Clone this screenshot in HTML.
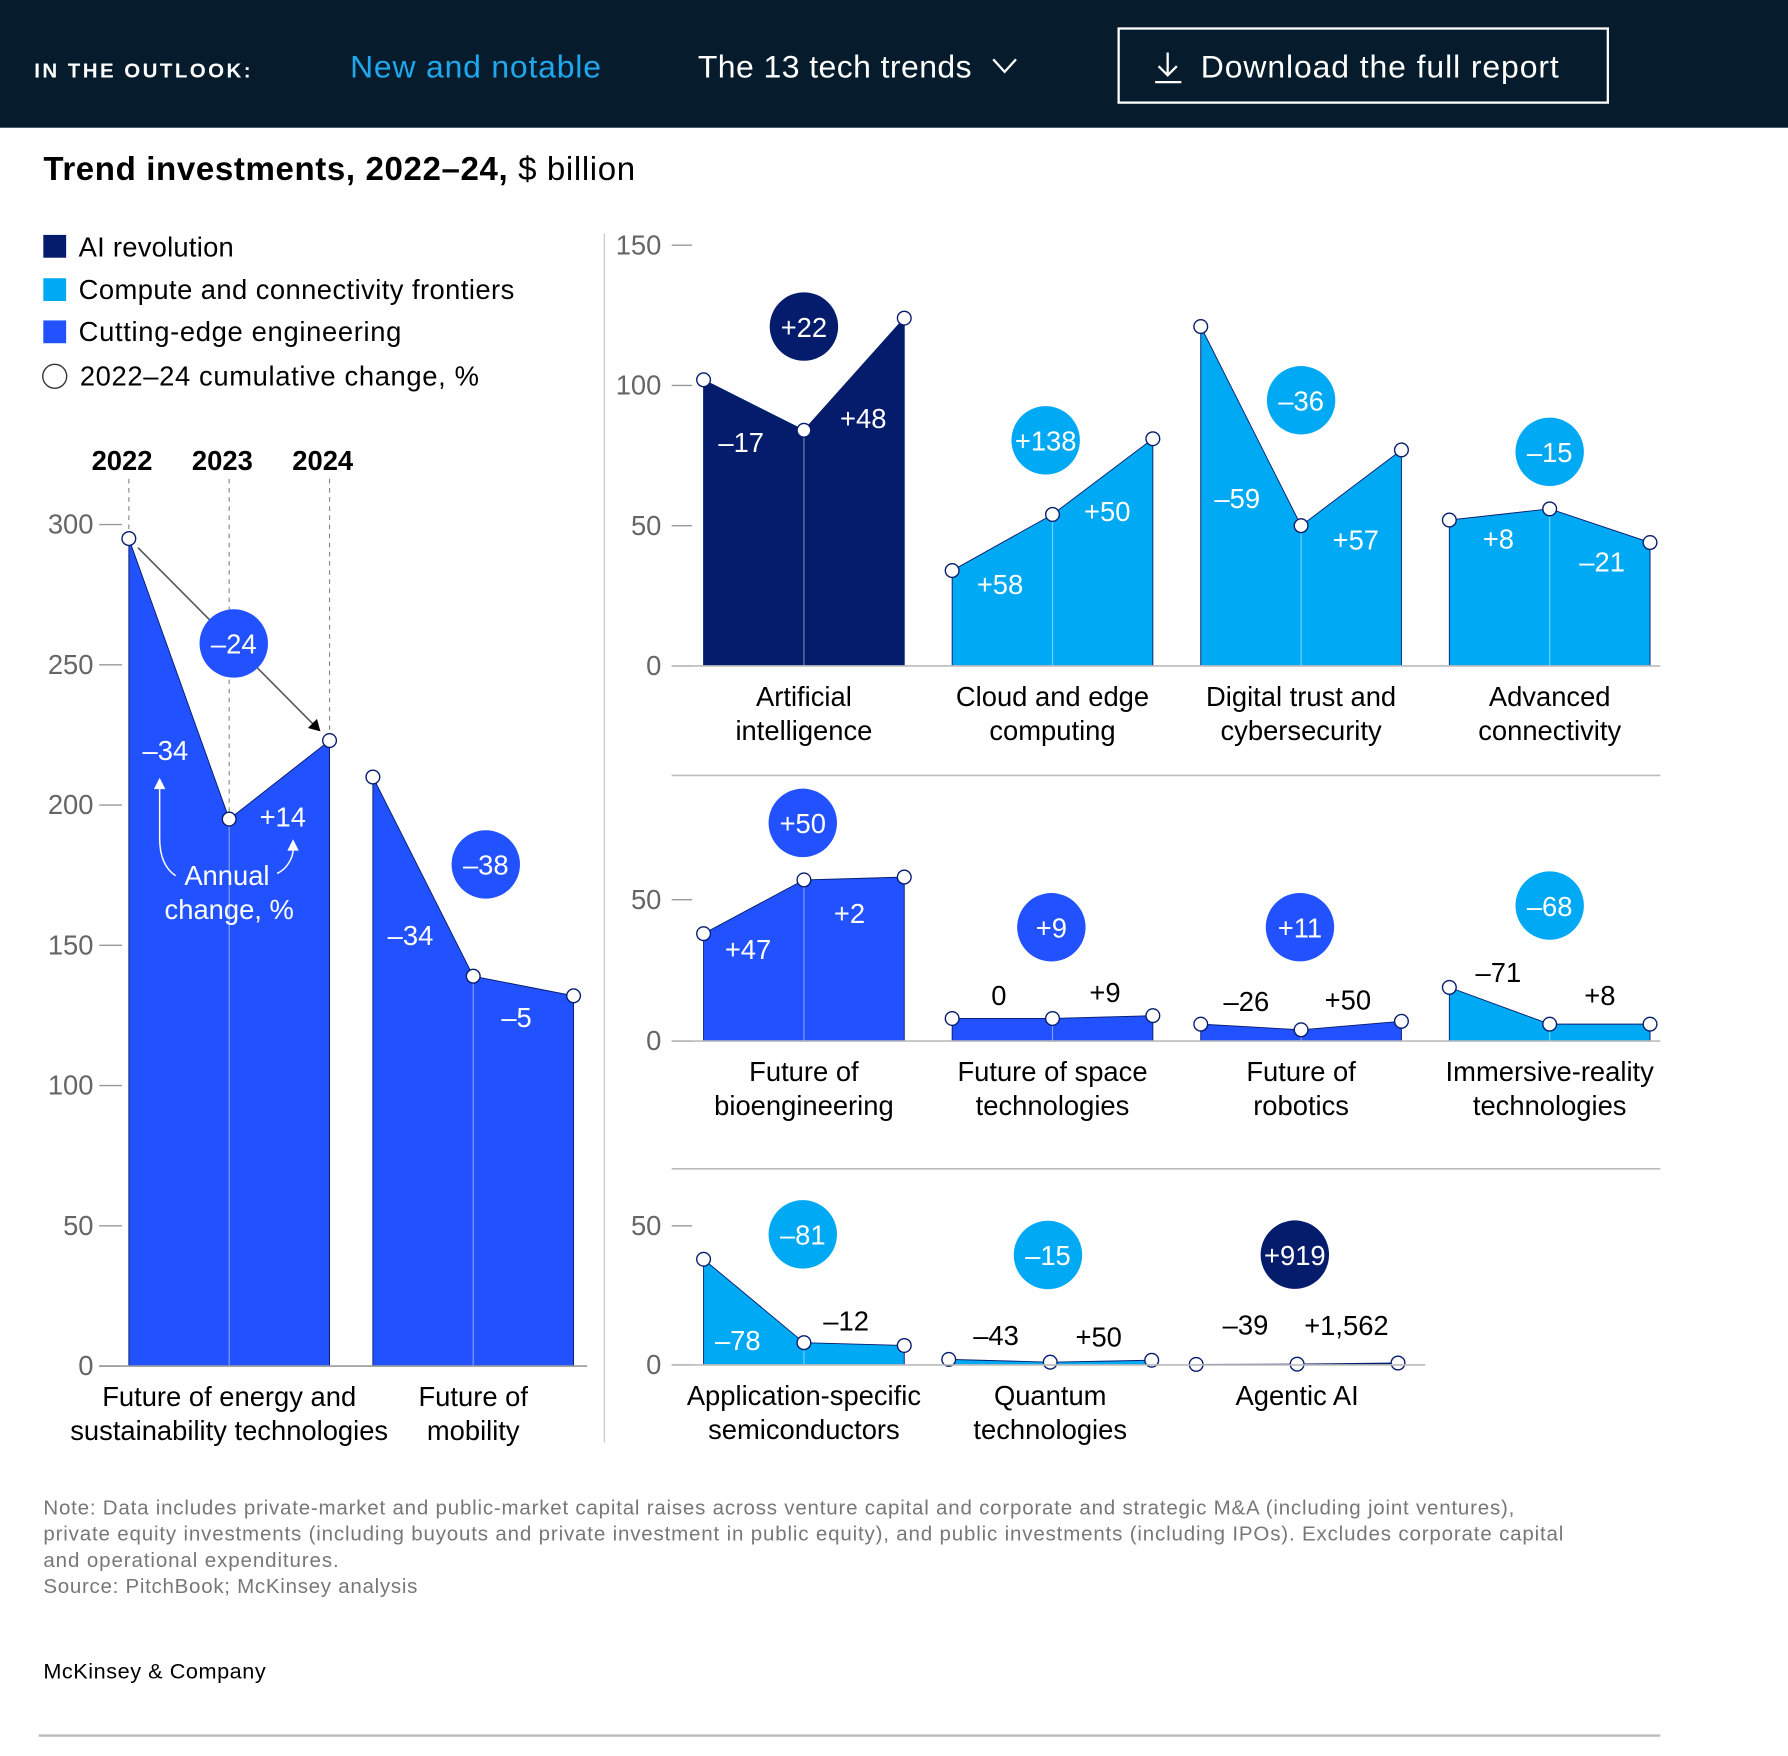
<!DOCTYPE html>
<html><head><meta charset="utf-8"><style>
html,body{margin:0;padding:0;background:#fff;width:1788px;height:1750px;overflow:hidden}
#wrap{position:absolute;left:0;top:0;width:1568px;height:1535px;transform:scale(1.14031);transform-origin:0 0;font-family:"Liberation Sans",sans-serif}
svg text{font-family:"Liberation Sans",sans-serif}
</style></head><body>
<div id="wrap">
<svg id="chart" width="1568" height="1535" viewBox="0 0 1568 1535" xmlns="http://www.w3.org/2000/svg">
<rect x="0" y="0" width="1568" height="112" fill="#061c2c"/>
<text x="30" y="68" fill="#fff" font-size="18" font-weight="bold" letter-spacing="1.2" textLength="191">IN THE OUTLOOK:</text>
<text x="307" y="68" fill="#1fa8ee" font-size="28" textLength="220">New and notable</text>
<text x="612" y="68" fill="#fff" font-size="28" textLength="240">The 13 tech trends</text>
<path d="M871 52 L881 63 L891 52" fill="none" stroke="#fff" stroke-width="2"/>
<rect x="981" y="25" width="429" height="65" fill="none" stroke="#fff" stroke-width="2"/>
<path d="M1024 46 V66 M1016 58 L1024 66 L1032 58 M1013 72 H1036" fill="none" stroke="#fff" stroke-width="2"/>
<text x="1053" y="68" fill="#fff" font-size="28" textLength="314">Download the full report</text>
<text x="38" y="158" font-size="29" fill="#000" textLength="519"><tspan font-weight="bold">Trend investments, 2022–24,</tspan> $ billion</text>
<g>
<rect x="38" y="206" width="20" height="20" fill="#051c6c"/>
<text x="69" y="225" font-size="24" textLength="136">AI revolution</text>
<rect x="38" y="244" width="20" height="20" fill="#00a9f4"/>
<text x="69" y="262" font-size="24" textLength="382">Compute and connectivity frontiers</text>
<rect x="38" y="281" width="20" height="20" fill="#2251ff"/>
<text x="69" y="299" font-size="24" textLength="283">Cutting-edge engineering</text>
<circle cx="48" cy="330" r="10.5" fill="#fff" stroke="#333" stroke-width="1.2"/>
<text x="70" y="338" font-size="24" textLength="350">2022–24 cumulative change, %</text>
</g>
<line x1="530" y1="205" x2="530" y2="1265" stroke="#ccc" stroke-width="1.2"/>
<g id="marks"></g>
<g fill="#777" font-size="18">
<text x="38" y="1328" textLength="1290">Note: Data includes private-market and public-market capital raises across venture capital and corporate and strategic M&amp;A (including joint ventures),</text>
<text x="38" y="1351" textLength="1333">private equity investments (including buyouts and private investment in public equity), and public investments (including IPOs). Excludes corporate capital</text>
<text x="38" y="1374" textLength="259">and operational expenditures.</text>
<text x="38" y="1397" textLength="328">Source: PitchBook; McKinsey analysis</text>
</g>
<text x="38" y="1472" font-size="19" fill="#000" textLength="195">McKinsey &amp; Company</text>
<line x1="34" y1="1522" x2="1456" y2="1522" stroke="#bbb" stroke-width="2"/>
</svg>
</div>
<script>
// ---- data ----
const leftTicks=[0,50,100,150,200,250,300];
const panelTicks1=[0,50,100,150];
const panelTicks2=[0,50];
const panelTicks3=[0,50];
const years=["2022","2023","2024"];
const energyVals=[295,195,223];
const mobilityVals=[210,139,132];
const aiVals=[102,84,124];
const cloudVals=[34,54,81];
const trustVals=[121,50,77];
const connVals=[52,56,44];
const bioVals=[38,57,58];
const spaceVals=[8,8,9];
const roboticsVals=[6,4,7];
const immersiveVals=[19,6,6];
const semisVals=[38,8,7];
const quantumVals=[2,1,1.7];
const agenticVals=[0.2,0.3,0.7];
const energyChanges=["–34","+14"], mobilityChanges=["–34","–5"];
const aiChanges=["–17","+48"], cloudChanges=["+58","+50"], trustChanges=["–59","+57"], connChanges=["+8","–21"];
const bioChanges=["+47","+2"], spaceChanges=["0","+9"], roboticsChanges=["–26","+50"], immersiveChanges=["–71","+8"];
const semisChanges=["–78","–12"], quantumChanges=["–43","+50"], agenticChanges=["–39","+1,562"];
const cumulative=["–24","–38","+22","+138","–36","–15","+50","+9","+11","–68","–81","–15","+919"];

const NS="http://www.w3.org/2000/svg";
const root=document.getElementById('marks');
const COL={ai:"#051c6c",cc:"#00a9f4",ce:"#2251ff"};
function mk(tag,attrs,parent){const e=document.createElementNS(NS,tag);for(const k in attrs)e.setAttribute(k,attrs[k]);(parent||root).appendChild(e);return e;}
function txt(x,y,s,size,fill,anchor,parent){const t=mk('text',{x:x,y:y,'font-size':size,fill:fill,'text-anchor':anchor||'middle'},parent);t.textContent=s;return t;}

// axis functions
const PX=2.46;
function yLeft(v){return 1198-v*PX;}
function yP1(v){return 584-v*PX;}
function yP2(v){return 913-v*2.48;}
function yP3(v){return 1197-v*2.44;}

function drawAxis(ticks,yf,labelX,tx1,tx2,name){
  ticks.forEach(t=>{
    const l=mk('line',{x1:tx1,x2:tx2,y1:yf(t),y2:yf(t),stroke:'#999','stroke-width':1.2});
    
    
    const tt=txt(labelX,yf(t)+8,String(t),24,'#666','end');
    
    
  });
}
drawAxis(leftTicks,yLeft,82,87,107,'left-y-axis');
drawAxis(panelTicks1,yP1,580,589,607,'panel1-y-axis');
drawAxis(panelTicks2,yP2,580,589,607,'panel2-y-axis');
drawAxis(panelTicks3,yP3,580,589,607,'panel3-y-axis');

// layout: label offsets (dx,dy) from segment midpoint, bubble (dx,lift) above middle point
function drawTrend(key,x0,w,vals,changes,cum,color,yf,names,lab,bub){
  const g=mk('g',{});
  
  
  const base=yf(0);
  const xs=[x0,x0+w/2,x0+w];
  const ys=vals.map(yf);
  const a=mk('path',{d:`M${xs[0]} ${base} L${xs[0]} ${ys[0]} L${xs[1]} ${ys[1]} L${xs[2]} ${ys[2]} L${xs[2]} ${base} Z`,fill:color,stroke:'#051c6c','stroke-width':0.8},g);
  
  
  const d=mk('line',{x1:xs[1],x2:xs[1],y1:ys[1],y2:base,stroke:'rgba(255,255,255,0.45)','stroke-width':1},g);
  
  
  for(let i=0;i<2;i++){
    const mx=(xs[i]+xs[i+1])/2, my=(ys[i]+ys[i+1])/2;
    const o=lab[i];
    const t=txt(mx+o[0],my+o[1]+8,changes[i],24,o[1]>0?'#fff':'#000','middle',g);
    
    
  }
  const cx=xs[1]+bub[0], cy=ys[1]-bub[1];
  const c=mk('circle',{cx:cx,cy:cy,r:30,fill:color},g);
  
  
  const ct=txt(cx,cy+9,cum,24,'#fff','middle',g);
  
  
  for(let i=0;i<3;i++){
    const p=mk('circle',{cx:xs[i],cy:ys[i],r:6,fill:'#fff',stroke:'#051c6c','stroke-width':1.2},g);
    
    
  }
  names.forEach((n,i)=>{
    const t=txt(x0+w/2,base+35+i*30,n,24,'#000','middle',g);
    
    
  });
}

const ex=[113,201,289];
years.forEach((y,i)=>{
  const l=mk('line',{x1:ex[i],x2:ex[i],y1:420,y2:yLeft(energyVals[i]),stroke:'#888','stroke-width':1,'stroke-dasharray':'4 4'});
  
  
  const t=mk('text',{x:ex[i]-6,y:412,'font-size':24,'font-weight':'bold','text-anchor':'middle',fill:'#000'});
  t.textContent=y;
  
  
});
const arrow=mk('path',{d:`M${ex[0]+8} ${yLeft(energyVals[0])+8} L${ex[2]-10} ${yLeft(energyVals[2])-10}`,stroke:'#555','stroke-width':1.4,fill:'none'});


const ah=mk('path',{d:`M${ex[2]-8} ${yLeft(energyVals[2])-8} l-11 -3 l8 -8 z`,fill:'#000'});



drawTrend('energy',113,176,energyVals,energyChanges,cumulative[0],COL.ce,yLeft,["Future of energy and","sustainability technologies"],[[-12,63],[3,33]],[4,154]);
drawTrend('mobility',327,176,mobilityVals,mobilityChanges,cumulative[1],COL.ce,yLeft,["Future of","mobility"],[[-11,52],[-6,28]],[11,98]);
const bl=mk('line',{x1:87,x2:515,y1:yLeft(0),y2:yLeft(0),stroke:'#999','stroke-width':1.4});



const ann=mk('g',{});


txt(199,776,'Annual',24,'#fff','middle',ann);
txt(201,806,'change, %',24,'#fff','middle',ann);
mk('path',{d:'M154 768 C145 762 140 752 140 735 L140 692',stroke:'#fff','stroke-width':1.3,fill:'none'},ann);
mk('path',{d:'M135 692 L140 682 L145 692 Z',fill:'#fff'},ann);
mk('path',{d:'M243 766 C252 762 257 752 257 745',stroke:'#fff','stroke-width':1.3,fill:'none'},ann);
mk('path',{d:'M252 746 L257 736 L262 746 Z',fill:'#fff'},ann);

drawTrend('artificial-intelligence',617,176,aiVals,aiChanges,cumulative[2],COL.ai,yP1,["Artificial","intelligence"],[[-11,33],[8,39]],[0,91]);
drawTrend('cloud-edge',835,176,cloudVals,cloudChanges,cumulative[3],COL.cc,yP1,["Cloud and edge","computing"],[[-2,37],[4,31]],[-6,65]);
drawTrend('digital-trust',1053,176,trustVals,trustChanges,cumulative[4],COL.cc,yP1,["Digital trust and","cybersecurity"],[[-12,64],[4,46]],[0,110]);
drawTrend('advanced-connectivity',1271,176,connVals,connChanges,cumulative[5],COL.cc,yP1,["Advanced","connectivity"],[[-1,22],[2,32]],[0,50]);
drawTrend('bioengineering',617,176,bioVals,bioChanges,cumulative[6],COL.ce,yP2,["Future of","bioengineering"],[[-5,38],[-4,31]],[-1,50]);
drawTrend('space',835,176,spaceVals,spaceChanges,cumulative[7],COL.ce,yP2,["Future of space","technologies"],[[-3,-20],[2,-21]],[-1,80]);
drawTrend('robotics',1053,176,roboticsVals,roboticsChanges,cumulative[8],COL.ce,yP2,["Future of","robotics"],[[-4,-22],[-3,-22]],[-1,90]);
drawTrend('immersive-reality',1271,176,immersiveVals,immersiveChanges,cumulative[9],COL.cc,yP2,["Immersive-reality","technologies"],[[-1,-29],[0,-25]],[0,104]);
drawTrend('semiconductors',617,176,semisVals,semisChanges,cumulative[10],COL.cc,yP3,["Application-specific","semiconductors"],[[-14,35],[-7,-20]],[-1,95]);
drawTrend('quantum',832,178,quantumVals,quantumChanges,cumulative[11],COL.cc,yP3,["Quantum","technologies"],[[-3,-22],[-2,-21]],[-2,94]);
drawTrend('agentic-ai',1049,177,agenticVals,agenticChanges,cumulative[12],COL.ai,yP3,["Agentic AI"],[[-1,-34],[-1,-33]],[-2,96]);

[[yP1(0),1456,'panel1-baseline'],[yP2(0),1456,'panel2-baseline'],[yP3(0),1250,'panel3-baseline'],[680,1456,'panel1-separator'],[1025,1456,'panel2-separator']].forEach(r=>{
  const l=mk('line',{x1:589,x2:r[1],y1:r[0],y2:r[0],stroke:'#bbb','stroke-width':1.4});
  
  
});
</script>
</body></html>
